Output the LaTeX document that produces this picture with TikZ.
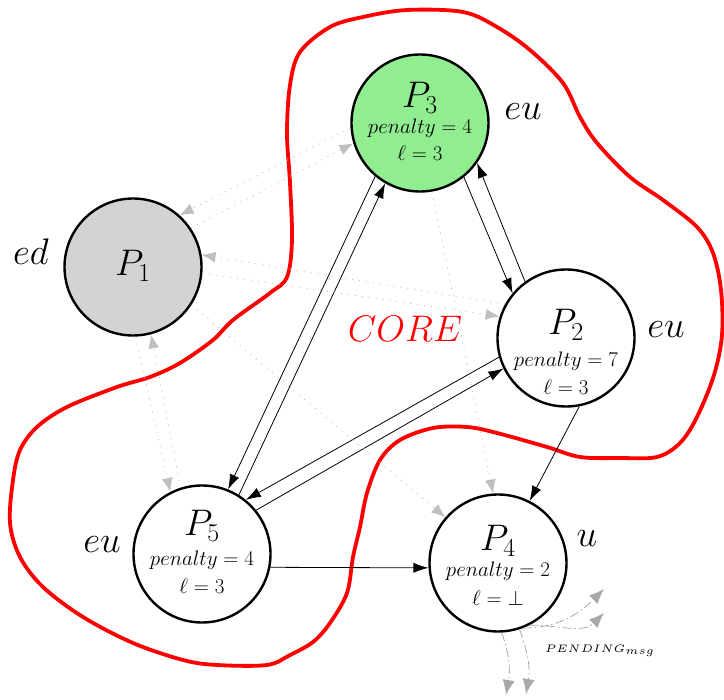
\RequirePackage{fix-cm}
\documentclass[tikz,border=0pt]{standalone}
\usepackage{graphicx}
\usetikzlibrary{arrows.meta,calc}
\definecolor{pgreen}{HTML}{90EE90}
\definecolor{pgray}{HTML}{D3D3D3}
\definecolor{dotgray}{HTML}{BFBFBF}
\definecolor{pendgray}{HTML}{A8A8A8}
\begin{document}
\begin{tikzpicture}[x=1pt,y=-1pt,
  proc/.style={circle, draw=black, line width=2.4pt, minimum size=137pt, inner sep=0pt},
  bigtxt/.style={font=\fontsize{37}{40}\selectfont, inner sep=0pt, anchor=base},
  midtxt/.style={font=\fontsize{21}{24}\selectfont, inner sep=0pt, anchor=base},
  msg/.style={draw=black, line width=0.8pt, -{Latex[length=15pt,width=10pt]}},
  ghost/.style={draw=dotgray, line width=0.9pt, dash pattern=on 1pt off 6pt, -{Latex[length=14pt,width=11pt]}},
  pend/.style={draw=pendgray, line width=0.8pt, dash pattern=on 9pt off 3pt on 1.5pt off 3pt, -{Latex[length=15pt,width=12pt]}},
  core/.style={draw=red, line width=3.8pt, line join=round}
]
\useasboundingbox (0,0) rectangle (724,700);

% CORE boundary
\draw[core] plot[smooth cycle, tension=0.55] coordinates {
 (407,10) (463,12) (497,27) (530,50) (563,83) (580,117) (597,143) (630,177)
 (663,200) (697,227) (713,253) (721,290) (722,335) (714,375) (697,417) (680,443)
 (657,457) (620,458) (580,457) (547,447) (497,433) (467,427) (433,428) (400,440)
 (380,460) (367,493) (360,527) (353,557) (347,593) (330,623) (313,642) (290,655)
 (267,665) (217,665) (183,660) (133,643) (83,617) (43,587) (20,557) (10,523)
 (13,480) (20,450) (37,427) (67,407) (117,387) (150,377) (180,363) (213,340)
 (233,320) (270,293) (287,277) (292,240) (290,183) (287,133) (290,85) (300,52)
 (330,27) (363,17)};

% processes
\node[proc, fill=pgray]  (P1) at (133,267) {};
\node[proc, fill=pgreen] (P3) at (420,123) {};
\node[proc, fill=white]  (P2) at (566,338) {};
\node[proc, fill=white]  (P5) at (202,554) {};
\node[proc, fill=white]  (P4) at (498,563) {};

% texts inside
\node[bigtxt] (P1n) at ($(P1)+(0,9)$) {$P_1$};

\node[bigtxt] (P3n) at ($(P3)+(0,-15)$) {$P_3$};
\node[midtxt] (P3p) at ($(P3)+(0,11)$) {$penalty = 4$};
\node[midtxt] (P3l) at ($(P3)+(0,38)$) {$\ell = 3$};

\node[bigtxt] (P2n) at ($(P2)+(0,-3)$) {$P_2$};
\node[midtxt] (P2p) at ($(P2)+(0,29)$) {$penalty = 7$};
\node[midtxt] (P2l) at ($(P2)+(0,57)$) {$\ell = 3$};

\node[bigtxt] (P5n) at ($(P5)+(0,-18)$) {$P_5$};
\node[midtxt] (P5p) at ($(P5)+(0,12)$) {$penalty = 4$};
\node[midtxt] (P5l) at ($(P5)+(0,40)$) {$\ell = 3$};

\node[bigtxt] (P4n) at ($(P4)+(0,-12)$) {$P_4$};
\node[midtxt] (P4p) at ($(P4)+(0,14)$) {$penalty = 2$};
\node[midtxt] (P4l) at ($(P4)+(0,43)$) {$\ell = \bot$};

% outside labels
\node[bigtxt] (e1) at (31,265) {$ed$};
\node[bigtxt] (e3) at (523,120) {$eu$};
\node[bigtxt] (e2) at (666,338) {$eu$};
\node[bigtxt] (e5) at (102,553) {$eu$};
\node[bigtxt] (e4) at (587,547) {$u$};
\node[bigtxt, text=red] (corelbl) at (405,342) {$CORE$};
\node[inner sep=0pt] (pm) at (600,651) {\resizebox{110pt}{!}{\fontsize{5}{6}\selectfont$PENDING_{msg}$}};

% messages
\draw[msg] (P3.-51) -- (P2.140);
\draw[msg] (P2.126) -- (P3.-35);
\draw[msg] (P3.-130) -- (P5.68);
\draw[msg] (P5.58) -- (P3.-120);
\draw[msg] (P2.196) -- (P5.51);
\draw[msg] (P5.39) -- (P2.206);
\draw[msg] (P2.-79) -- (P4.63);
\draw[msg] (P5.-11) -- (P4.184);

% gray dotted
\draw[ghost] (P3.184) -- (P1.48);
\draw[ghost] (P1.34) -- (P3.197);
\draw[ghost] (P2.151) -- (P1.10);
\draw[ghost] (P1.-5) -- (P2.162);
\draw[ghost] (P1.-88) -- (P5.117);
\draw[ghost] (P5.108) -- (P1.-75);
\draw[ghost] (P1.-33) -- (P4.139);
\draw[ghost] (P3.-80) -- (P4.94);

% pending
\coordinate (r1) at (604,589);
\coordinate (r2) at (604,613);
\coordinate (d1) at (506,695);
\coordinate (d2) at (526,694);
\draw[pend] (P4.-69) to[out=0,in=225] (r1);
\draw[pend] (P4.-63) to[out=0,in=225] (r2);
\draw[pend] (P4.-87) to[out=-70,in=80] (d1);
\draw[pend] (P4.-72) to[out=-70,in=80] (d2);
\end{tikzpicture}
\end{document}
